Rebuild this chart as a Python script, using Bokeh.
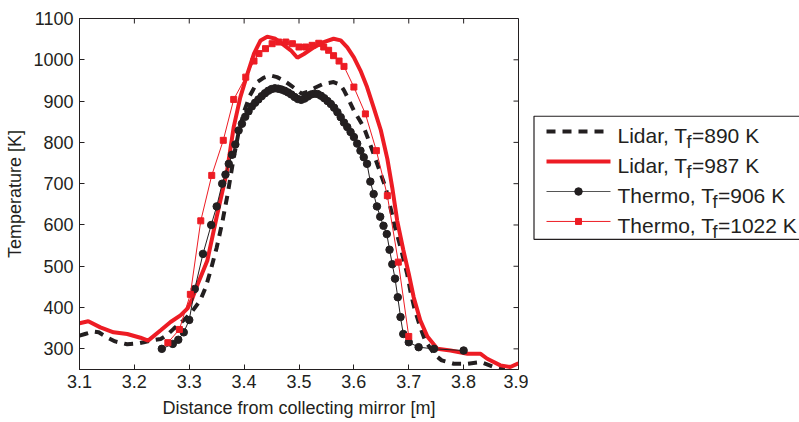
import math
from bokeh.plotting import figure
from bokeh.models import Range1d, FixedTicker, PrintfTickFormatter
from bokeh.layouts import row
from bokeh.embed import file_html
from bokeh.resources import INLINE
from bokeh.core.properties import value

# ---------------- data ----------------
lidar890_x = [3.100, 3.110, 3.125, 3.135, 3.150, 3.165, 3.187, 3.205, 3.217, 3.235, 3.248,
              3.260, 3.272, 3.287, 3.302, 3.320, 3.330, 3.339, 3.350, 3.360, 3.370, 3.380,
              3.390, 3.400, 3.410, 3.424, 3.436, 3.448, 3.460, 3.472, 3.485, 3.497, 3.505,
              3.515, 3.530, 3.545, 3.563, 3.575, 3.582, 3.590, 3.600, 3.610, 3.618, 3.627,
              3.636, 3.646, 3.658, 3.667, 3.675, 3.685, 3.697, 3.703, 3.710, 3.721, 3.730,
              3.740, 3.750, 3.760, 3.782, 3.807, 3.831, 3.855, 3.875]
lidar890_t = [332, 336, 342, 340, 328, 318, 311, 313, 316, 321, 324,
              334, 349, 366, 385, 417, 449, 490, 545, 605, 675, 755,
              825, 875, 912, 946, 957, 962, 958, 950, 938, 926, 918,
              922, 933, 942, 946, 940, 926, 905, 877, 855, 837, 805,
              772, 735, 690, 640, 595, 546, 482, 440, 400, 352, 320,
              300, 283, 272, 264, 264, 268, 256, 250]

lidar987_x = [3.100, 3.116, 3.138, 3.162, 3.187, 3.211, 3.225, 3.248, 3.266, 3.284, 3.297,
              3.305, 3.315, 3.333, 3.350, 3.369, 3.381, 3.393, 3.406, 3.418, 3.430, 3.442,
              3.457, 3.469, 3.485, 3.497, 3.509, 3.527, 3.545, 3.563, 3.576, 3.588, 3.600,
              3.612, 3.624, 3.636, 3.649, 3.661, 3.670, 3.679, 3.690, 3.700, 3.709, 3.721,
              3.734, 3.752, 3.776, 3.807, 3.831, 3.843, 3.867, 3.885, 3.900]
lidar987_t = [362, 367, 352, 340, 336, 327, 320, 345, 365, 381, 398,
              420, 455, 514, 620, 732, 837, 909, 966, 1015, 1047, 1056,
              1051, 1039, 1023, 1005, 1014, 1030, 1043, 1051, 1047, 1030, 1006,
              974, 934, 885, 830, 760, 690, 610, 540, 482, 425, 369,
              330, 300, 296, 288, 288, 276, 260, 256, 265]

thermo906_x = [3.250, 3.270, 3.280, 3.290, 3.300, 3.310, 3.325, 3.340, 3.350, 3.360, 3.366,
               3.372, 3.378, 3.384, 3.390, 3.396, 3.402, 3.408, 3.414, 3.420, 3.426, 3.432,
               3.438, 3.444, 3.450, 3.456, 3.462, 3.468, 3.474, 3.480, 3.486, 3.492, 3.498,
               3.504, 3.510, 3.516, 3.522, 3.528, 3.534, 3.540, 3.546, 3.552, 3.558, 3.564,
               3.570, 3.576, 3.582, 3.588, 3.594, 3.600, 3.606, 3.612, 3.618, 3.624, 3.630,
               3.636, 3.642, 3.648, 3.654, 3.660, 3.665, 3.670, 3.675, 3.680, 3.685, 3.690,
               3.700, 3.718, 3.746, 3.800]
thermo906_t = [300, 312, 322, 340, 370, 445, 530, 600, 645, 700, 722,
               748, 770, 795, 829, 845, 862, 875, 887, 896, 904, 912,
               919, 925, 929, 931, 930, 928, 925, 921, 916, 910, 905,
               903, 906, 911, 916, 918, 917, 913, 907, 900, 893, 884,
               873, 861, 848, 837, 825, 813, 797, 780, 764, 748, 705,
               675, 645, 620, 598, 578, 540, 505, 470, 425, 377, 336,
               316, 304, 300, 296]

thermo1022_x = [3.261, 3.282, 3.302, 3.321, 3.341, 3.362, 3.381, 3.403, 3.418, 3.427, 3.439,
                3.451, 3.463, 3.476, 3.488, 3.500, 3.512, 3.524, 3.536, 3.545, 3.554, 3.563,
                3.573, 3.582, 3.600, 3.621, 3.641, 3.661, 3.681, 3.700]
thermo1022_t = [315, 347, 432, 610, 720, 805, 904, 958, 997, 1015, 1027,
                1039, 1043, 1043, 1039, 1031, 1031, 1035, 1040, 1031, 1023, 1010,
                997, 984, 934, 869, 780, 671, 510, 330]

x_ticks = [3.1, 3.2, 3.3, 3.4, 3.5, 3.6, 3.7, 3.8, 3.9]
y_ticks = [300, 400, 500, 600, 700, 800, 900, 1000, 1100]
X_MIN, X_MAX = 3.1, 3.9
Y_MIN, Y_MAX = 250, 1100

legend_prefix = ["Lidar, T", "Lidar, T", "Thermo, T", "Thermo, T"]
legend_sub = ["f", "f", "f", "f"]
legend_suffix = ["=890 K", "=987 K", "=906 K", "=1022 K"]

# ---------------- style ----------------
RED = "#ED1C24"
BLACK = "#231F20"
FONT = "Liberation Sans"

p = figure(width=528, height=422, output_backend="svg", toolbar_location=None,
           x_range=Range1d(X_MIN, X_MAX), y_range=Range1d(Y_MIN, Y_MAX),
           min_border_left=79, min_border_right=10, min_border_top=18, min_border_bottom=53)
p.xgrid.visible = False
p.ygrid.visible = False
p.outline_line_color = BLACK
p.outline_line_width = 1
p.background_fill_color = "white"
p.border_fill_color = "white"

p.line(lidar890_x, lidar890_t, line_color=BLACK, line_width=4, line_dash="9 7")
p.line(lidar987_x, lidar987_t, line_color=RED, line_width=4)
p.line(thermo906_x, thermo906_t, line_color=BLACK, line_width=1)
p.scatter(thermo906_x, thermo906_t, marker="circle", size=7.5, fill_color=BLACK, line_color=BLACK)
p.line(thermo1022_x, thermo1022_t, line_color=RED, line_width=1)
p.scatter(thermo1022_x, thermo1022_t, marker="square", size=6, fill_color=RED, line_color=RED)

# inward ticks on the top and right edges of the box
p.ray(x=x_ticks, y=[Y_MAX] * len(x_ticks), length=5, length_units="screen",
      angle=-math.pi / 2, line_color=BLACK, line_width=1)
p.ray(x=[X_MAX] * len(y_ticks), y=y_ticks, length=5, length_units="screen",
      angle=math.pi, line_color=BLACK, line_width=1)

for ax in (p.xaxis[0], p.yaxis[0]):
    ax.axis_line_color = BLACK
    ax.major_tick_line_color = BLACK
    ax.major_tick_in = 5
    ax.major_tick_out = 0
    ax.minor_tick_line_color = None
    ax.major_label_text_font = FONT
    ax.major_label_text_color = BLACK
    ax.major_label_text_font_size = "18px"
    ax.axis_label_text_font = FONT
    ax.axis_label_text_color = BLACK
    ax.axis_label_text_font_style = "normal"
    ax.axis_label_text_font_size = "18px"

p.xaxis.ticker = FixedTicker(ticks=x_ticks)
p.yaxis.ticker = FixedTicker(ticks=y_ticks)
p.xaxis.formatter = PrintfTickFormatter(format="%.1f")
p.yaxis.formatter = PrintfTickFormatter(format="%d")
p.xaxis.axis_label = "Distance from collecting mirror [m]"
p.yaxis.axis_label = "Temperature [K]"
p.xaxis.major_label_standoff = 5
p.xaxis.axis_label_standoff = 7
p.yaxis.major_label_standoff = 6
p.yaxis.axis_label_standoff = 5

# ---------------- legend panel (coordinates = page pixels) ----------------
leg = figure(width=271, height=422, output_backend="svg", toolbar_location=None,
             x_range=Range1d(528, 799), y_range=Range1d(422, 0),
             x_axis_location=None, y_axis_location=None,
             min_border=0, min_border_left=0, min_border_right=0,
             min_border_top=0, min_border_bottom=0)
leg.xgrid.visible = False
leg.ygrid.visible = False
leg.outline_line_color = None
leg.background_fill_color = "white"
leg.border_fill_color = "white"

# box (its right edge lies beyond the window)
leg.line([820, 533.5, 533.5, 820], [117.5, 117.5, 265.5, 265.5], line_color=BLACK, line_width=1.2)

row_y = [136, 172, 208, 244]
sx0, sx1, sxm = 546, 610, 578
leg.line([sx0, sx1], [row_y[0], row_y[0]], line_color=BLACK, line_width=4, line_dash="9 7")
leg.line([sx0, sx1], [row_y[1], row_y[1]], line_color=RED, line_width=4)
leg.line([sx0, sx1], [row_y[2], row_y[2]], line_color="#555555", line_width=1.2)
leg.scatter([sxm], [row_y[2]], marker="circle", size=7.5, fill_color=BLACK, line_color=BLACK)
leg.line([sx0, sx1], [row_y[3], row_y[3]], line_color=RED, line_width=1)
leg.scatter([sxm], [row_y[3]], marker="square", size=6, fill_color=RED, line_color=RED)

tx = 617
sub_x = [686, 686, 712, 712]
suf_x = [691.5, 691.5, 717.5, 717.5]
base_y = [y + 5 for y in row_y]
leg.text(x=[tx] * 4, y=base_y, text=legend_prefix, text_font=value(FONT),
         text_font_size="21px", text_color=BLACK, text_baseline="alphabetic")
leg.text(x=sub_x, y=[b + 8 for b in base_y], text=legend_sub, text_font=value(FONT),
         text_font_size="18px", text_color=BLACK, text_baseline="alphabetic")
leg.text(x=suf_x, y=base_y, text=legend_suffix, text_font=value(FONT),
         text_font_size="21px", text_color=BLACK, text_baseline="alphabetic")

layout = row(p, leg)
open("out.html", "w").write(file_html(layout, INLINE))
